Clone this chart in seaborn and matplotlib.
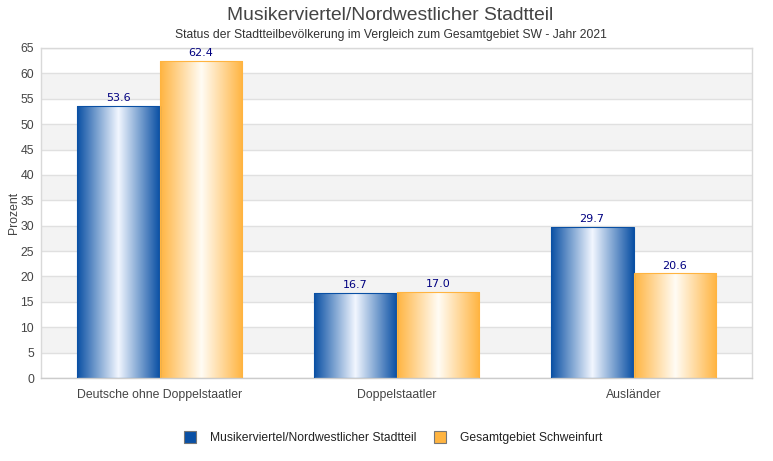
import numpy as np
import pandas as pd
import matplotlib
matplotlib.use("Agg")
import matplotlib.pyplot as plt
import seaborn as sns
from matplotlib.colors import LinearSegmentedColormap
from matplotlib.lines import Line2D

categories = ["Deutsche ohne Doppelstaatler", "Doppelstaatler", "Ausländer"]
series_names = ["Musikerviertel/Nordwestlicher Stadtteil", "Gesamtgebiet Schweinfurt"]
values_district = [53.6, 16.7, 29.7]
values_city = [62.4, 17.0, 20.6]
yticks = list(range(0, 70, 5))

title = "Musikerviertel/Nordwestlicher Stadtteil"
subtitle = "Status der Stadtteilbevölkerung im Vergleich zum Gesamtgebiet SW - Jahr 2021"

colors = ["#0a50a4", "#ffb440"]
centers = ["#f2f7ff", "#fffcf5"]

df = pd.DataFrame({
    "Kategorie": categories * 2,
    "Serie": [series_names[0]] * 3 + [series_names[1]] * 3,
    "Wert": values_district + values_city,
})

sns.set_theme(style="white")
plt.rcParams["font.family"] = ["Liberation Sans", "DejaVu Sans"]

fig = plt.figure(figsize=(7.73, 4.61), dpi=100)
ax = fig.add_axes([41 / 773, (461 - 378) / 461, (752 - 41) / 773, (378 - 48) / 461])

sns.barplot(data=df, x="Kategorie", y="Wert", hue="Serie", order=categories,
            hue_order=series_names, palette=colors, width=0.7, ax=ax,
            legend=False, saturation=1, zorder=3)

# alternating bands
for i in range(len(yticks) - 1):
    if (yticks[i] // 5) % 2 == 1:
        ax.axhspan(yticks[i], yticks[i + 1], color="#f3f3f3", zorder=0, lw=0)
for t in yticks:
    ax.axhline(t, color="#e0e0e0", lw=1, zorder=1)

# gradient fills
for ci, cont in enumerate(ax.containers):
    cmap = LinearSegmentedColormap.from_list("g", [colors[ci], centers[ci], colors[ci]])
    grad = np.linspace(0, 1, 256).reshape(1, -1)
    for p in cont.patches:
        x0, w, h = p.get_x(), p.get_width(), p.get_height()
        p.set_facecolor("none")
        p.set_edgecolor(colors[ci])
        p.set_linewidth(0.8)
        im = ax.imshow(grad, extent=[x0, x0 + w, 0, h], aspect="auto", cmap=cmap,
                       zorder=2.5, interpolation="bilinear")
        im.set_clip_path(p)
    ax.bar_label(cont, fmt="%.1f", padding=2, color="#000080", fontsize=8,
                 family="DejaVu Sans", zorder=4)

ax.set_xlim(-0.5, 2.5)
ax.set_ylim(0, 65)
ax.set_yticks(yticks)
ax.set_yticklabels([str(t) for t in yticks], fontsize=8.8, color="#444444")
ax.tick_params(axis="x", labelsize=8.8, colors="#444444", length=0, pad=8)
ax.tick_params(axis="y", length=0, pad=5)
ax.set_xlabel("")
ax.set_ylabel("Prozent", fontsize=8.8, color="#444444", labelpad=0)
for s in ax.spines.values():
    s.set_color("#d9d9d9")
    s.set_linewidth(1)
ax.spines["bottom"].set_color("#cccccc")

fig.text(390 / 773, 1 - 16 / 461, title, ha="center", va="center", fontsize=13.9, color="#444444")
fig.text(391 / 773, 1 - 35 / 461, subtitle, ha="center", va="center", fontsize=8.75, color="#333333")

handles = [Line2D([0], [0], marker="s", linestyle="none", markersize=8,
                  markerfacecolor=c, markeredgecolor="#777777", markeredgewidth=0.8)
           for c in colors]
fig.legend(handles, series_names, loc="center", bbox_to_anchor=(390 / 773, 1 - 438 / 461),
           ncol=2, frameon=False, fontsize=8.75, handletextpad=0.6, columnspacing=1.0,
           labelcolor="#222222")

fig.savefig("out.png", dpi=100)
